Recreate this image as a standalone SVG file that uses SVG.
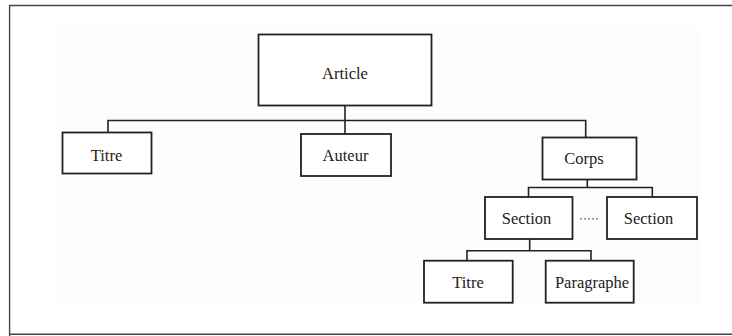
<svg xmlns="http://www.w3.org/2000/svg" width="732" height="336" viewBox="0 0 732 336">
<style>
.box{fill:#ffffff;stroke:#222222;stroke-width:1.8}
.lbl{font-family:"Liberation Serif","Times New Roman",serif;font-size:16.5px;fill:#222222;text-anchor:middle}
.con{fill:none;stroke:#222222;stroke-width:1.6}
</style>
<rect x="0" y="0" width="732" height="336" fill="#ffffff"/>
<rect x="55" y="26" width="645" height="278" fill="#fdfdfd"/>
<path d="M9.6,336 V5.5 H732 M9.6,334.3 H732" fill="none" stroke="#444444" stroke-width="1.4"/>
<g id="connectors">
<path class="con" d="M345,105.7 V120.5 M108,132.3 V120.5 H585.7 V137.5 M345,120.5 V134"/>
<path class="con" d="M587.3,179.5 V187.5 M528.5,197 V187.5 H652.3 V197"/>
<path class="con" d="M529.7,238.7 V250.7 M467,260.7 V250.7 H591 V260.7"/>
</g>
<g id="article"><rect class="box" x="258.5" y="34.5" width="173" height="71"/><text class="lbl" x="345" y="79">Article</text></g>
<g id="titre1"><rect class="box" x="62.5" y="132.5" width="89" height="41"/><text class="lbl" x="106.5" y="161">Titre</text></g>
<g id="auteur"><rect class="box" x="301" y="134" width="90" height="42"/><text class="lbl" x="345.5" y="161">Auteur</text></g>
<g id="corps"><rect class="box" x="542.5" y="137.5" width="94" height="42"/><text class="lbl" x="584" y="163.5">Corps</text></g>
<g id="section1"><rect class="box" x="485" y="197" width="87.5" height="42"/><text class="lbl" x="526.5" y="224">Section</text></g>
<g id="ellipsis"><line x1="580" y1="218.8" x2="598" y2="218.8" stroke="#888888" stroke-width="1.6" stroke-dasharray="2,2"/></g>
<g id="section2"><rect class="box" x="607" y="197" width="90" height="42"/><text class="lbl" x="648.5" y="224">Section</text></g>
<g id="titre2"><rect class="box" x="424" y="260.7" width="88.7" height="42"/><text class="lbl" x="468" y="288">Titre</text></g>
<g id="paragraphe"><rect class="box" x="545.7" y="260.7" width="88" height="42"/><text class="lbl" x="592" y="288">Paragraphe</text></g>
</svg>
